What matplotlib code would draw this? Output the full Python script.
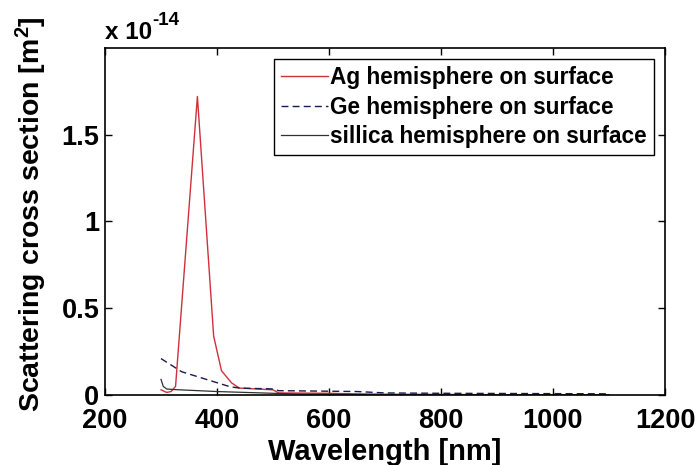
import numpy as np
import matplotlib
matplotlib.use('Agg')
import matplotlib.pyplot as plt

# values, scattering cross section in units of 1e-14 m^2
ag_wl = [300, 310, 318, 326, 365, 394, 408, 426, 440, 500, 510, 600, 650, 700, 800, 900, 1000, 1100]
ag_cs = [0.03, 0.015, 0.02, 0.05, 1.72, 0.34, 0.14, 0.07, 0.04, 0.03, 0.012, 0.01, 0.006, 0.004, 0.003, 0.002, 0.002, 0.001]

ge_wl = [300, 337, 423, 440, 500, 510, 600, 650, 700, 800, 900, 1000, 1100]
ge_cs = [0.21, 0.134, 0.048, 0.04, 0.035, 0.025, 0.022, 0.02, 0.012, 0.01, 0.009, 0.008, 0.007]

si_wl = [300, 304, 310, 320, 400, 500, 550, 700, 900, 1100]
si_cs = [0.09, 0.05, 0.035, 0.032, 0.02, 0.01, 0.005, 0.003, 0.002, 0.002]

labels = ['Ag hemisphere on surface', 'Ge hemisphere on surface', 'sillica hemisphere on surface']
xticks = [200, 400, 600, 800, 1000, 1200]
yticks = [0, 0.5, 1, 1.5]
yticklabels = ['0', '0.5', '1', '1.5']

plt.rcParams['font.family'] = ['Liberation Sans', 'DejaVu Sans']
plt.rcParams['font.weight'] = 'bold'
plt.rcParams['mathtext.fontset'] = 'custom'
plt.rcParams['mathtext.rm'] = 'Liberation Sans:bold'
plt.rcParams['mathtext.bf'] = 'Liberation Sans:bold'
plt.rcParams['mathtext.default'] = 'bf'

fig = plt.figure(figsize=(7, 4.65), dpi=100)
ax = fig.add_axes([0.15, 0.1505, 0.80, 0.7465])

ax.plot(ag_wl, ag_cs, color='#d0303c', lw=1.0, label=labels[0])
ax.plot(ge_wl, ge_cs, color='#1a1a50', lw=1.0, ls=(0, (5, 3)), label=labels[1])
ax.plot(si_wl, si_cs, color='#303030', lw=0.9, label=labels[2])

ax.set_xlim(200, 1200)
ax.set_ylim(0, 2)
ax.set_xticks(xticks)
ax.set_yticks(yticks)
ax.set_yticklabels(yticklabels)
ax.tick_params(direction='in', top=True, right=True, length=5, width=1,
               labelsize=19.5)
ax.tick_params(axis='x', pad=9)
ax.tick_params(axis='y', pad=4)
for s in ax.spines.values():
    s.set_linewidth(1.2)

ax.set_xlabel('Wavelength [nm]', fontsize=21, fontweight='bold', labelpad=3)
ax.set_ylabel('Scattering cross section [m$^2$]', fontsize=20.5, fontweight='bold')
ax.yaxis.set_label_coords(-0.1, 0.522)

# multiplier text, MATLAB style
t = ax.text(0.0, 1.012, 'x 10', transform=ax.transAxes, fontsize=17.5,
            fontweight='bold', ha='left', va='bottom')
ax.annotate('-14', xy=(1.0, 0.62), xycoords=t, fontsize=13.5,
            fontweight='bold', ha='left', va='bottom')

leg = ax.legend(loc='upper right', bbox_to_anchor=(0.98, 0.968), fontsize=16.3,
                frameon=True, fancybox=False, handlelength=2.1, handletextpad=0.1,
                borderpad=0.3, labelspacing=0.3, borderaxespad=0.0)
leg.get_frame().set_edgecolor('black')
leg.get_frame().set_linewidth(1.0)
leg.get_frame().set_alpha(1)

fig.savefig('out.png', dpi=100)
